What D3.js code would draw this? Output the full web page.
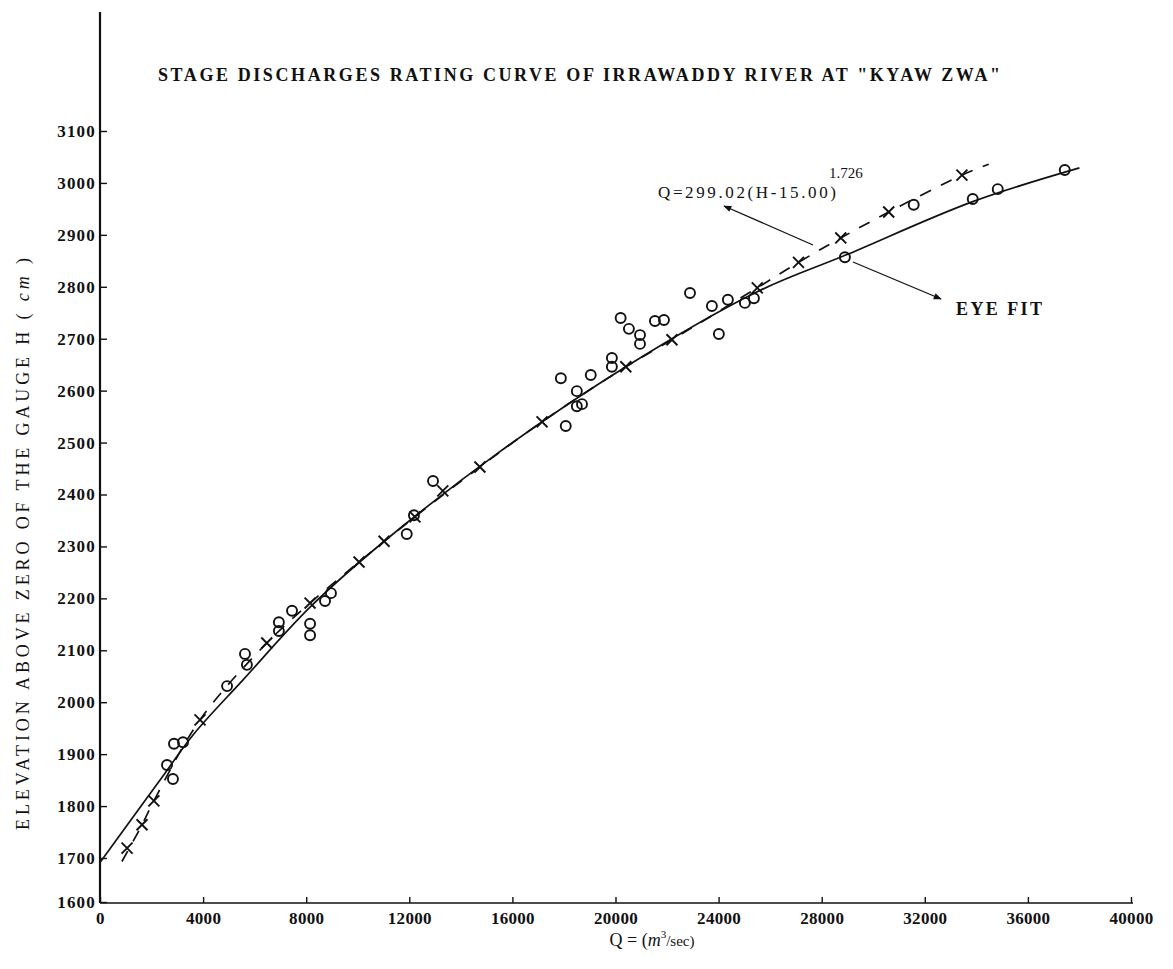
<!DOCTYPE html>
<html>
<head>
<meta charset="utf-8">
<script src="https://cdn.jsdelivr.net/npm/d3@7"></script>
<style>
  html, body { margin: 0; padding: 0; background: #fff; }
  svg { display: block; }
</style>
</head>
<body>
<svg id="chart" width="1173" height="969"></svg>
<script>
// ---- data ----
const xTickValues = [0, 4000, 8000, 12000, 16000, 20000, 24000, 28000, 32000, 36000, 40000];
const yTickValues = [1600, 1700, 1800, 1900, 2000, 2100, 2200, 2300, 2400, 2500, 2600, 2700, 2800, 2900, 3000, 3100];

// observed gaugings (circles)
const obsQ = [2600, 2830, 2870, 3220, 4930, 5625, 5700, 6940, 6940, 7450, 8150, 8150, 8730, 8960,
  11900, 12180, 12920, 17880, 18070, 18500, 18500, 18700, 19040, 19860, 19860, 20200, 20520,
  20950, 20950, 21530, 21880, 22890, 23740, 24010, 24360, 25020, 25370, 28900, 31570, 33860, 34830, 37430];
const obsH = [1879, 1852, 1920, 1923, 2031, 2093, 2072, 2154, 2137, 2176, 2151, 2129, 2195, 2210,
  2324, 2360, 2426, 2624, 2532, 2599, 2570, 2574, 2630, 2663, 2646, 2740, 2719,
  2707, 2690, 2734, 2736, 2788, 2763, 2709, 2775, 2769, 2778, 2857, 2958, 2969, 2988, 3025];

// computed points of the fitted formula (x markers)
const calcQ = [1050, 1630, 2090, 3880, 6470, 8150, 10050, 11020, 12220, 13300, 14740, 17150,
  20400, 22190, 25500, 27100, 28740, 30600, 33440];
const calcH = [1719, 1764, 1810, 1966, 2114, 2191, 2270, 2310, 2357, 2407, 2453, 2540,
  2646, 2698, 2798, 2847, 2894, 2944, 3015];

// dashed formula curve
const formulaQ = [850, 1630, 2090, 3880, 6470, 8150, 10050, 12220, 14740, 17150, 20400, 22190, 25500, 27100, 28740, 30600, 33440, 34480];
const formulaH = [1692, 1764, 1810, 1966, 2114, 2191, 2270, 2357, 2453, 2540, 2646, 2698, 2798, 2847, 2894, 2944, 3015, 3036];

// solid "eye fit" curve
const eyeQ = [0, 2330, 3610, 5550, 8150, 10980, 15500, 20400, 25480, 28980, 33860, 38000];
const eyeH = [1690, 1850, 1937, 2043, 2183, 2308, 2482, 2646, 2790, 2862, 2964, 3029];

const titleText = 'STAGE DISCHARGES RATING CURVE OF IRRAWADDY RIVER AT "KYAW ZWA"';
const equationText = "Q=299.02(H-15.00)";
const exponentText = "1.726";
const eyeFitText = "EYE FIT";

// ---- drawing ----
const svg = d3.select("#chart");
const serif = "'Liberation Serif', 'DejaVu Serif', serif";

const x = d3.scaleLinear().domain([0, 40000]).range([100, 1131]);
const y = d3.scaleLinear().domain([1600, 1700, 3100]).range([902, 858, 131]);

// defs: arrowhead
svg.append("defs").append("marker")
  .attr("id", "arrow")
  .attr("viewBox", "0 0 10 10")
  .attr("refX", 9).attr("refY", 5)
  .attr("markerWidth", 15).attr("markerHeight", 8)
  .attr("markerUnits", "userSpaceOnUse")
  .attr("orient", "auto")
  .append("path").attr("d", "M0,1 L10,5 L0,9 Z").attr("fill", "#111");

// axes
const xAxis = d3.axisBottom(x).tickValues(xTickValues).tickSize(-6).tickPadding(14).tickFormat(d3.format("d"));
const gx = svg.append("g").attr("transform", "translate(0,903)").call(xAxis);
gx.select(".domain").attr("d", "M100,0H1133").attr("stroke", "#111").attr("stroke-width", 1.6);
gx.selectAll(".tick line").attr("stroke", "#111").attr("stroke-width", 1.4);
gx.selectAll(".tick text")
  .attr("font-family", serif).attr("font-size", 17).attr("font-weight", "bold")
  .attr("letter-spacing", 0.3)
  .attr("fill", "#111").attr("dy", "0.4em");

const yAxis = d3.axisLeft(y).tickValues(yTickValues).tickSize(-7).tickPadding(12).tickFormat(d3.format("d"));
const gy = svg.append("g").attr("transform", "translate(100,0)").call(yAxis);
gy.select(".domain").attr("d", "M0,12V903").attr("stroke", "#111").attr("stroke-width", 2.2);
gy.selectAll(".tick line").attr("stroke", "#111").attr("stroke-width", 1.4);
gy.selectAll(".tick text")
  .attr("font-family", serif).attr("font-size", 17).attr("font-weight", "bold")
  .attr("letter-spacing", 1.2).attr("fill", "#111").attr("x", -4);

// curves
const eyeData = eyeQ.map((q, i) => [q, eyeH[i]]);
const formulaData = formulaQ.map((q, i) => [q, formulaH[i]]);

svg.append("path")
  .datum(eyeData)
  .attr("fill", "none").attr("stroke", "#111").attr("stroke-width", 1.7)
  .attr("d", d3.line().x(d => x(d[0])).y(d => y(d[1])).curve(d3.curveCatmullRom.alpha(0.5)));

svg.append("path")
  .datum(formulaData)
  .attr("fill", "none").attr("stroke", "#111").attr("stroke-width", 1.7)
  .attr("stroke-dasharray", "12,11")
  .attr("d", d3.line().x(d => x(d[0])).y(d => y(d[1])).curve(d3.curveCatmullRom.alpha(0.5)));

// observed circles
svg.append("g").selectAll("circle")
  .data(obsQ.map((q, i) => [q, obsH[i]]))
  .join("circle")
  .attr("cx", d => x(d[0])).attr("cy", d => y(d[1]))
  .attr("r", 5)
  .attr("fill", "none").attr("stroke", "#111").attr("stroke-width", 1.9);

// computed x markers
const times = d3.symbol().type(d3.symbolTimes).size(80);
svg.append("g").selectAll("path")
  .data(calcQ.map((q, i) => [q, calcH[i]]))
  .join("path")
  .attr("transform", d => `translate(${x(d[0])},${y(d[1])})`)
  .attr("d", times)
  .attr("fill", "none").attr("stroke", "#111").attr("stroke-width", 1.9);

// title
svg.append("text")
  .attr("x", 158).attr("y", 81)
  .attr("font-family", serif).attr("font-size", 18).attr("font-weight", "bold")
  .attr("fill", "#111")
  .attr("textLength", 842).attr("lengthAdjust", "spacing")
  .text(titleText);

// y axis label
const yl = svg.append("text")
  .attr("transform", "translate(29,544) rotate(-90)")
  .attr("text-anchor", "middle")
  .attr("font-family", serif).attr("font-size", 18)
  .attr("fill", "#111")
  .attr("textLength", 572).attr("lengthAdjust", "spacing");
yl.append("tspan").text("ELEVATION ABOVE ZERO OF THE GAUGE H ( ");
yl.append("tspan").attr("font-style", "italic").text("cm");
yl.append("tspan").text(" )");

// x axis label
const xl = svg.append("text")
  .attr("x", 652).attr("y", 946)
  .attr("text-anchor", "middle")
  .attr("font-family", serif).attr("font-size", 18)
  .attr("fill", "#111");
xl.append("tspan").text("Q = (");
xl.append("tspan").attr("font-style", "italic").text("m");
xl.append("tspan").attr("font-size", 11).attr("dy", -8).text("3");
xl.append("tspan").attr("dy", 8).attr("font-size", 15).text("/sec)");

// equation annotation
svg.append("text")
  .attr("x", 658).attr("y", 198)
  .attr("font-family", serif).attr("font-size", 17)
  .attr("fill", "#111")
  .attr("textLength", 178).attr("lengthAdjust", "spacing")
  .text(equationText);
svg.append("text")
  .attr("x", 829).attr("y", 178)
  .attr("font-family", serif).attr("font-size", 15)
  .attr("fill", "#111")
  .text(exponentText);
svg.append("line")
  .attr("x1", 813).attr("y1", 245).attr("x2", 724).attr("y2", 206)
  .attr("stroke", "#111").attr("stroke-width", 1.3)
  .attr("marker-end", "url(#arrow)");

// eye fit annotation
svg.append("line")
  .attr("x1", 853).attr("y1", 262).attr("x2", 941).attr("y2", 299)
  .attr("stroke", "#111").attr("stroke-width", 1.3)
  .attr("marker-end", "url(#arrow)");
svg.append("text")
  .attr("x", 956).attr("y", 315)
  .attr("font-family", serif).attr("font-size", 18).attr("font-weight", "bold")
  .attr("fill", "#111")
  .attr("textLength", 86).attr("lengthAdjust", "spacing")
  .text(eyeFitText);
</script>
</body>
</html>
